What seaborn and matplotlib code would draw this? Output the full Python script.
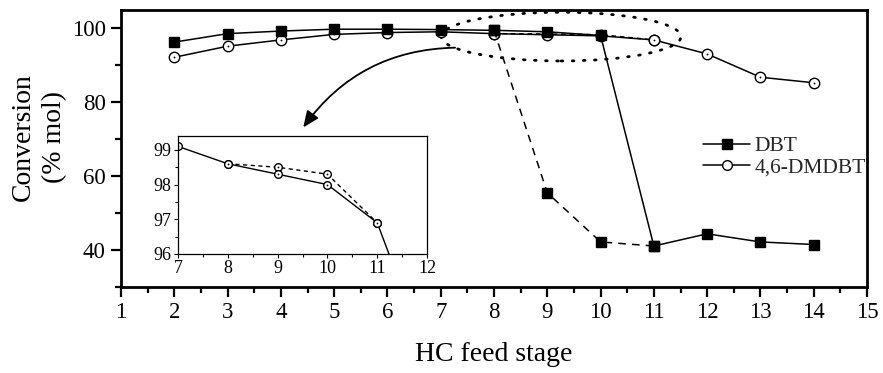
import matplotlib
matplotlib.use("Agg")
import matplotlib.pyplot as plt
import seaborn as sns
import pandas as pd
from matplotlib.patches import Ellipse
from matplotlib.ticker import MultipleLocator
from matplotlib.lines import Line2D

# ---- data ----
stage = [2, 3, 4, 5, 6, 7, 8, 9, 10, 11, 12, 13, 14]
dbt = [96.3, 98.6, 99.3, 99.8, 99.8, 99.7, 99.5, 99.1, 98.1, 41.1, 44.4, 42.2, 41.5]
dmdbt = [92.2, 95.2, 96.9, 98.4, 98.9, 99.1, 98.6, 98.3, 98.0, 96.9, 93.1, 86.8, 85.3]
stage_dash = [8, 9, 10, 11]
dbt_dash = [99.5, 55.5, 42.2, 41.1]
dmdbt_dash = [98.6, 98.5, 98.3, 96.9]
x_ticks = list(range(1, 16))
y_ticks = [40, 60, 80, 100]
inset_x_ticks = [7, 8, 9, 10, 11, 12]
inset_y_ticks = [96, 97, 98, 99]
labels = ["DBT", "4,6-DMDBT"]

sns.set_theme(style="ticks")
plt.rcParams["font.family"] = ["Liberation Serif", "DejaVu Serif"]

W, H = 883, 373
fig = plt.figure(figsize=(W / 100, H / 100), dpi=100)
ax = fig.add_axes([121 / W, 1 - 287 / H, (867 - 121) / W, (287 - 10) / H])

solid = pd.DataFrame({"stage": stage, "DBT": dbt, "DMDBT": dmdbt})
dash = pd.DataFrame({"stage": stage_dash, "DBT": dbt_dash, "DMDBT": dmdbt_dash})

circ = dict(marker="o", mfc="white", mec="black", mew=1.0)
sq = dict(marker="s", mfc="black", mec="black", mew=1.0)
dot = dict(marker="o", mfc="black", mec="black", mew=0, lw=0)

def draw(a, ms, lw, show_dbt=True):
    sns.lineplot(data=dash, x="stage", y="DMDBT", ax=a, color="black", lw=lw,
                 linestyle=(0, (3, 2.5)), ms=ms, **circ)
    sns.lineplot(data=dash, x="stage", y="DMDBT", ax=a, color="black",
                 ms=1.3, **dot)
    sns.lineplot(data=solid, x="stage", y="DMDBT", ax=a, color="black", lw=lw,
                 ms=ms, **circ)
    sns.lineplot(data=solid, x="stage", y="DMDBT", ax=a, color="black",
                 ms=1.3, **dot)
    if show_dbt:
        sns.lineplot(data=dash, x="stage", y="DBT", ax=a, color="black", lw=lw,
                     linestyle=(0, (5, 4)), ms=ms, **sq)
        sns.lineplot(data=solid, x="stage", y="DBT", ax=a, color="black", lw=lw,
                     ms=ms, **sq)

draw(ax, 7.5, 1.1)

ax.set_xlim(1, 15)
ax.set_ylim(30, 105)
ax.set_xticks(x_ticks)
ax.set_yticks(y_ticks)
ax.xaxis.set_minor_locator(MultipleLocator(0.5))
ax.yaxis.set_minor_locator(MultipleLocator(10))
ax.tick_params(which="major", direction="out", length=7, width=1.6,
               labelsize=16.5, pad=4, color="black", labelcolor="black")
ax.tick_params(which="minor", direction="out", length=4, width=1.6, color="black")
for s in ax.spines.values():
    s.set_linewidth(2)
    s.set_color("black")

ax.set_xlabel("HC feed stage", fontsize=20, color="black")
ax.xaxis.label.set_va("center")
ax.xaxis.set_label_coords(0.5, -0.245)
ax.set_ylabel("Conversion\n(% mol)", fontsize=20, color="black", linespacing=1.3)
ax.yaxis.label.set_va("center")
ax.yaxis.set_label_coords(-0.11, 0.54)

# legend
handles = [Line2D([], [], color="black", lw=1.1, ms=7, **sq),
           Line2D([], [], color="black", lw=1.1, ms=7, **circ)]
leg = fig.legend(handles, labels, loc="upper left",
                 bbox_to_anchor=(703 / W, 1 - 136 / H), frameon=False,
                 fontsize=15.5, handlelength=2.2, handletextpad=0.2,
                 labelspacing=0.05, borderpad=0, borderaxespad=0)

# dotted ellipse
ell = Ellipse((9.26, 97.8), 4.5, 13.2, fill=False, ec="black", lw=2.0,
              linestyle=(0, (0.6, 3.4)), capstyle="round")
ax.add_patch(ell)

# curved arrow
ax.annotate("", xy=(4.42, 73.2), xytext=(7.27, 94.8),
            arrowprops=dict(arrowstyle="-|>,head_length=0.7,head_width=0.3",
                            connectionstyle="arc3,rad=0.25", color="black",
                            lw=1.3, mutation_scale=14, shrinkA=0, shrinkB=0))

# inset
ins = fig.add_axes([178 / W, 1 - 254 / H, (427 - 178) / W, (254 - 136) / H])
draw(ins, 5.5, 1.0, show_dbt=False)
ins.set_xlim(7, 12)
ins.set_ylim(96, 99.4)
ins.set_xticks(inset_x_ticks)
ins.set_yticks(inset_y_ticks)
ins.xaxis.set_minor_locator(MultipleLocator(0.5))
ins.yaxis.set_minor_locator(MultipleLocator(0.5))
ins.tick_params(which="major", direction="out", length=3, width=0.8,
                labelsize=13, pad=1.5, color="black", labelcolor="black")
ins.tick_params(which="minor", direction="out", length=2, width=0.8, color="black")
ins.set_xlabel("")
ins.set_ylabel("")
for s in ins.spines.values():
    s.set_linewidth(0.9)
    s.set_color("black")

fig.savefig("out.png", dpi=100)
